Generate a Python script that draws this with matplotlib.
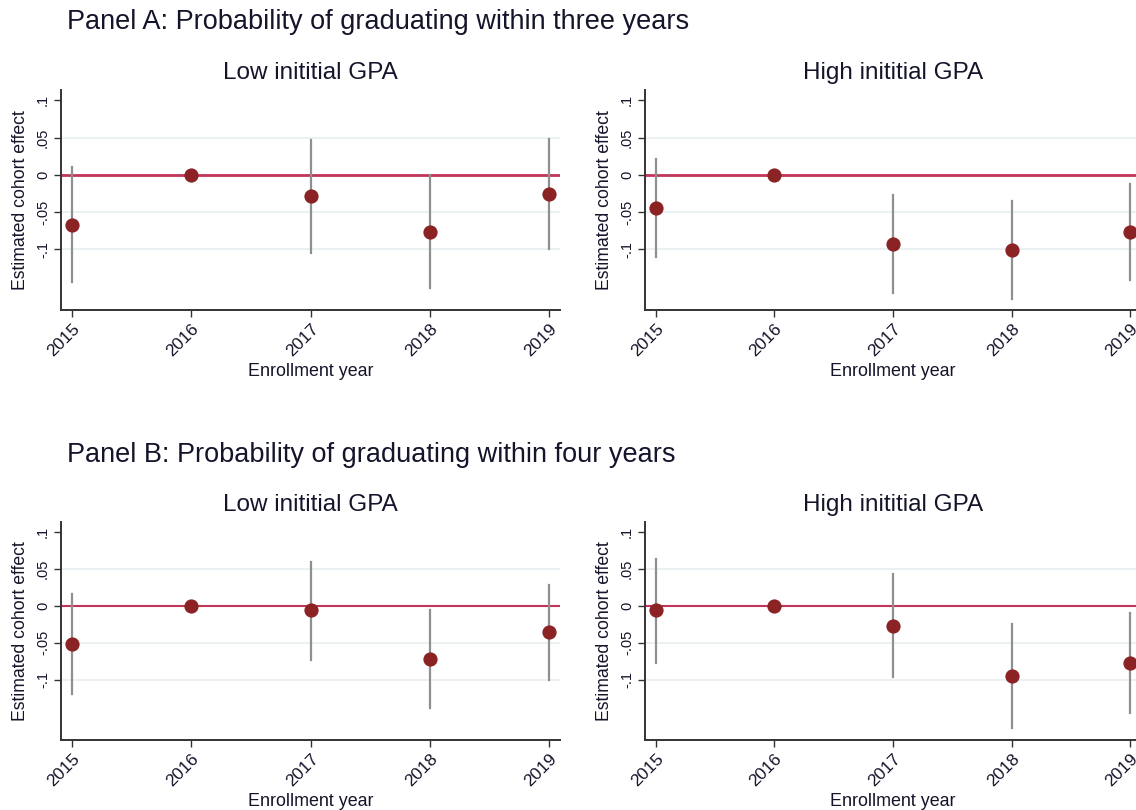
import matplotlib.pyplot as plt
import numpy as np

plt.rcParams['font.family'] = ['Liberation Sans', 'DejaVu Sans']

years = [2015, 2016, 2017, 2018, 2019]
year_labels = ['2015', '2016', '2017', '2018', '2019']

# point estimates and 95% CI bounds (2016 is the reference cohort)
a_low_est = [-0.067, 0.0, -0.029, -0.077, -0.026]
a_low_lo = [-0.144, np.nan, -0.105, -0.153, -0.100]
a_low_hi = [0.010, np.nan, 0.047, 0.000, 0.048]

a_high_est = [-0.045, 0.0, -0.093, -0.101, -0.077]
a_high_lo = [-0.111, np.nan, -0.159, -0.167, -0.141]
a_high_hi = [0.021, np.nan, -0.027, -0.035, -0.013]

b_low_est = [-0.052, 0.0, -0.006, -0.072, -0.035]
b_low_lo = [-0.120, np.nan, -0.073, -0.139, -0.100]
b_low_hi = [0.016, np.nan, 0.060, -0.005, 0.029]

b_high_est = [-0.006, 0.0, -0.027, -0.095, -0.078]
b_high_lo = [-0.077, np.nan, -0.097, -0.166, -0.146]
b_high_hi = [0.064, np.nan, 0.043, -0.025, -0.010]

ytick_vals = [0.1, 0.05, 0, -0.05, -0.1]
ytick_labels = ['.1', '.05', '0', '-.05', '-.1']

W, H = 1136, 810
txt = '#14142a'
fig = plt.figure(figsize=(W / 100, H / 100), dpi=100)


def make_ax(left, right, top, bottom):
    return fig.add_axes([left / W, 1 - bottom / H, (right - left) / W, (bottom - top) / H])


def panel(ax, est, lo, hi, title, zero_lw):
    ax.set_xlim(2014.91, 2019.09)
    ax.set_ylim(-0.182, 0.114)
    for g in [0.05, -0.05, -0.1]:
        ax.axhline(g, color='#e8eef0', lw=1.2, zorder=0)
    ax.axhline(0, color='#c2345a', lw=zero_lw, zorder=1)
    for x, l, h in zip(years, lo, hi):
        if not np.isnan(l):
            ax.plot([x, x], [l, h], color='#8f8f8f', lw=1.6, zorder=2)
    ax.scatter(years, est, s=105, color='#8b2325', zorder=3, linewidths=0)
    ax.spines['top'].set_visible(False)
    ax.spines['right'].set_visible(False)
    for s in ['left', 'bottom']:
        ax.spines[s].set_color('#333333')
        ax.spines[s].set_linewidth(1.4)
    ax.set_yticks(ytick_vals)
    ax.set_yticklabels(ytick_labels, rotation=90, va='center', fontsize=10.5, color=txt)
    ax.set_xticks(years)
    ax.set_xticklabels(year_labels, rotation=45, ha='right', rotation_mode='anchor',
                       fontsize=12.5, color=txt)
    ax.tick_params(axis='both', length=5, width=1, color='#333333', pad=3)
    ax.set_ylabel('Estimated cohort effect', fontsize=12.7, color=txt, labelpad=5)
    ax.set_xlabel('Enrollment year', fontsize=12.9, color=txt, labelpad=3)
    ax.set_title(title, fontsize=17.5, color=txt, pad=8)


ax1 = make_ax(61, 560, 90, 310)
ax2 = make_ax(645, 1141, 90, 310)
ax3 = make_ax(61, 560, 522, 740)
ax4 = make_ax(645, 1141, 522, 740)

panel(ax1, a_low_est, a_low_lo, a_low_hi, 'Low inititial GPA', 2.0)
panel(ax2, a_high_est, a_high_lo, a_high_hi, 'High inititial GPA', 2.0)
panel(ax3, b_low_est, b_low_lo, b_low_hi, 'Low inititial GPA', 1.5)
panel(ax4, b_high_est, b_high_lo, b_high_hi, 'High inititial GPA', 1.5)

fig.text(67 / W, 1 - 22 / H, 'Panel A: Probability of graduating within three years',
         fontsize=19.5, color=txt, va='center', ha='left')
fig.text(67 / W, 1 - 455 / H, 'Panel B: Probability of graduating within four years',
         fontsize=19.5, color=txt, va='center', ha='left')

fig.savefig('out.png', dpi=100, facecolor='white')
